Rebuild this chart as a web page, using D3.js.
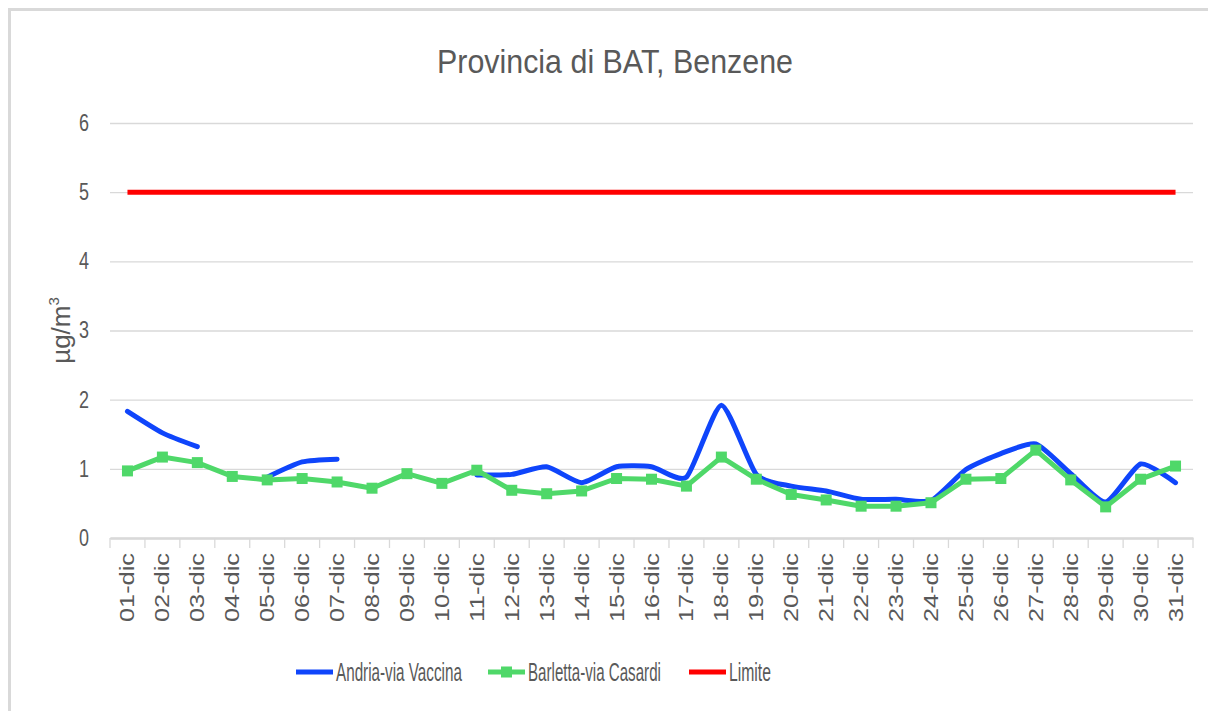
<!DOCTYPE html>
<html>
<head>
<meta charset="utf-8">
<script src="https://cdn.jsdelivr.net/npm/d3@7"></script>
<style>
  body { margin: 0; background: #fff; }
  svg { display: block; }
</style>
</head>
<body>
<svg id="chart"></svg>
<script>
const days = d3.range(1, 32).map((d) => String(d).padStart(2, "0") + "-dic");

// null = missing measurement
const andria = [1.83, 1.52, 1.32, null, 0.88, 1.10, 1.14, null, null, null,
  0.91, 0.92, 1.03, 0.80, 1.03, 1.03, 0.88, 1.92, 0.92, 0.75,
  0.68, 0.56, 0.56, 0.54, 0.99, 1.22, 1.36, 0.93, 0.52, 1.07, 0.80];

const barletta = [0.97, 1.17, 1.09, 0.89, 0.84, 0.86, 0.81, 0.72, 0.93, 0.79,
  0.98, 0.69, 0.64, 0.68, 0.86, 0.85, 0.75, 1.17, 0.85, 0.63,
  0.55, 0.46, 0.46, 0.51, 0.85, 0.86, 1.27, 0.84, 0.45, 0.85, 1.04];

const limite = days.map(() => 5);

const yTicks = [0, 1, 2, 3, 4, 5, 6];
const seriesNames = ["Andria-via Vaccina", "Barletta-via Casardi", "Limite"];
const seriesColors = ["#0f45fb", "#4fd869", "#ff0000"];

const width = 1208;
const height = 711;
const margin = { top: 123, right: 15, bottom: 173, left: 110 };
const textColor = "#595959";
const gridColor = "#d9d9d9";
const font = "'Liberation Sans', Arial, sans-serif";

const svg = d3.select("#chart").attr("width", width).attr("height", height);

// squeeze a text horizontally to a target width (the reference font is narrow)
function squeeze(sel, target) {
  sel.each(function (d, i) {
    const w = this.getComputedTextLength();
    const t = typeof target === "function" ? target(d, i) : target;
    const x0 = +this.getAttribute("x") || 0;
    this.setAttribute("transform", `translate(${x0},0) scale(${t / w},1) translate(${-x0},0)`);
  });
}

// outer chart border (runs off the right / bottom edges)
svg.append("path")
  .attr("d", `M9.5,${height + 5}V9.5H${width + 5}`)
  .attr("fill", "none")
  .attr("stroke", gridColor)
  .attr("stroke-width", 3);

const x = d3.scaleBand()
  .domain(days)
  .range([margin.left, width - margin.right]);

const y = d3.scaleLinear()
  .domain([0, 6])
  .range([height - margin.bottom, margin.top]);

const cx = (d) => x(d) + x.bandwidth() / 2;

// gridlines + y labels
const yAxis = svg.append("g")
  .attr("transform", `translate(${margin.left},0)`)
  .call(d3.axisLeft(y)
    .tickValues(yTicks)
    .tickFormat(d3.format("d"))
    .tickSize(-(width - margin.left - margin.right))
    .tickPadding(21));
yAxis.select(".domain").remove();
yAxis.selectAll(".tick line").attr("stroke", gridColor).attr("stroke-width", 1.3);
yAxis.selectAll(".tick text")
  .attr("fill", textColor)
  .attr("font-family", font)
  .attr("font-size", 23)
  .attr("textLength", 10)
  .attr("lengthAdjust", "spacingAndGlyphs");

// x axis
const xAxis = svg.append("g")
  .attr("transform", `translate(0,${y(0)})`)
  .call(d3.axisBottom(x).tickSize(0));
xAxis.select(".domain").attr("stroke", gridColor).attr("stroke-width", 2.5);
xAxis.selectAll(".tick text")
  .attr("fill", textColor)
  .attr("font-family", font)
  .attr("font-size", 20)
  .attr("transform", "rotate(-90)")
  .attr("text-anchor", "end")
  .attr("x", -15)
  .attr("y", 0)
  .attr("dy", "0.35em")
  .attr("textLength", 69)
  .attr("lengthAdjust", "spacingAndGlyphs");

// tick marks between categories
svg.append("g")
  .selectAll("line")
  .data(days.concat([null]))
  .join("line")
  .attr("x1", (d) => (d ? x(d) : x.range()[1]))
  .attr("x2", (d) => (d ? x(d) : x.range()[1]))
  .attr("y1", y(0))
  .attr("y2", y(0) + 10)
  .attr("stroke", gridColor)
  .attr("stroke-width", 1.3);

// axis title
svg.append("text")
  .attr("transform", `translate(70,${(y(0) + y(6)) / 2}) rotate(-90)`)
  .attr("text-anchor", "middle")
  .attr("fill", textColor)
  .attr("font-family", font)
  .attr("font-size", 26)
  .html("µg/m<tspan dy='-11' font-size='15'>3</tspan>");

// chart title
svg.append("text")
  .attr("x", 615)
  .attr("y", 73)
  .attr("text-anchor", "middle")
  .attr("fill", textColor)
  .attr("font-family", font)
  .attr("font-size", 34)
  .text("Provincia di BAT, Benzene")
  .call(squeeze, 356);

// lines
const smoothLine = d3.line()
  .defined((d) => d[1] != null)
  .x((d) => cx(d[0]))
  .y((d) => y(d[1]))
  .curve(d3.curveCardinal.tension(0.4));

const straightLine = d3.line()
  .defined((d) => d[1] != null)
  .x((d) => cx(d[0]))
  .y((d) => y(d[1]));

svg.append("path")
  .datum(days.map((d, i) => [d, limite[i]]))
  .attr("d", straightLine)
  .attr("fill", "none")
  .attr("stroke", seriesColors[2])
  .attr("stroke-width", 5);

svg.append("path")
  .datum(days.map((d, i) => [d, andria[i]]))
  .attr("d", smoothLine)
  .attr("fill", "none")
  .attr("stroke", seriesColors[0])
  .attr("stroke-width", 5)
  .attr("stroke-linecap", "round")
  .attr("stroke-linejoin", "round");

svg.append("path")
  .datum(days.map((d, i) => [d, barletta[i]]))
  .attr("d", straightLine)
  .attr("fill", "none")
  .attr("stroke", seriesColors[1])
  .attr("stroke-width", 5)
  .attr("stroke-linejoin", "round");

svg.append("g")
  .selectAll("rect")
  .data(days.map((d, i) => [d, barletta[i]]))
  .join("rect")
  .attr("x", (d) => cx(d[0]) - 5.5)
  .attr("y", (d) => y(d[1]) - 5.5)
  .attr("width", 11)
  .attr("height", 11)
  .attr("fill", seriesColors[1]);

// legend
const legendX = [296, 488, 689];
const legendLen = [126, 133, 42];
const legend = svg.append("g")
  .selectAll("g")
  .data(seriesNames)
  .join("g")
  .attr("transform", (d, i) => `translate(${legendX[i]},672)`);

legend.append("line")
  .attr("x1", 0)
  .attr("x2", 37)
  .attr("stroke", (d, i) => seriesColors[i])
  .attr("stroke-width", 5);

legend.filter((d, i) => i === 1)
  .append("rect")
  .attr("x", 13)
  .attr("y", -5.5)
  .attr("width", 11)
  .attr("height", 11)
  .attr("fill", seriesColors[1]);

legend.append("text")
  .attr("x", 40)
  .attr("y", 9)
  .attr("fill", textColor)
  .attr("font-family", font)
  .attr("font-size", 25)
  .text((d) => d)
  .call(squeeze, (d, i) => legendLen[i]);
</script>
</body>
</html>
